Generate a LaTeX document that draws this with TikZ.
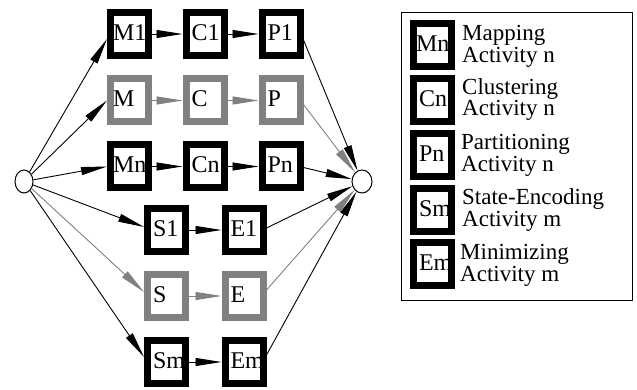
\documentclass[tikz,border=0pt]{standalone}
\usepackage{fontspec}
\setmainfont{Liberation Serif}
\usetikzlibrary{arrows.meta,shapes.geometric}
\begin{document}
\begin{tikzpicture}[x=1pt,y=-1pt,
  box/.style={draw=black, line width=7pt, fill=white, minimum width=38pt, minimum height=43pt,
    inner xsep=5.5pt, inner ysep=0pt, text width=27pt, align=left, text height=15pt, text depth=2pt,
    font=\fontsize{24}{24}\selectfont},
  mbox/.style={box, inner xsep=2.5pt, text width=33pt},
  gbox/.style={box, draw=gray},
  gmbox/.style={mbox, draw=gray},
  term/.style={draw=black, line width=1pt, ellipse, inner sep=0pt, fill=white},
  arr/.style={line width=0.9pt, -{Triangle[length=26pt,width=8pt]}},
  garr/.style={arr, color=gray},
  legtext/.style={anchor=base west, inner sep=0pt, text height=14pt, text depth=4pt,
    font=\fontsize{23}{23}\selectfont}
]
\useasboundingbox (0,0) rectangle (637,390);

% terminals
\node (L) [term, minimum width=18pt, minimum height=23pt] at (24,181.5) {};
\node (R) [term, minimum width=20pt, minimum height=23pt] at (362,181.5) {};

% mapping / clustering / partitioning rows
\node (M1) [mbox]  at (129.5,34) {M1};
\node (C1) [box]   at (205,34)   {C1};
\node (P1) [box]   at (281,34)   {P1};
\node (M)  [gmbox] at (129.5,100.5) {M};
\node (C)  [gbox]  at (205,100.5)   {C};
\node (P)  [gbox]  at (281,100.5)   {P};
\node (Mn) [mbox]  at (129.5,166.5) {Mn};
\node (Cn) [box]   at (205,166.5)   {Cn};
\node (Pn) [box]   at (281,166.5)   {Pn};

% state-encoding / minimizing rows
\node (S1) [box]  at (166.5,230) {S1};
\node (E1) [box]  at (244,230)   {E1};
\node (S)  [gbox] at (166.5,296) {S};
\node (E)  [gbox] at (244,296)   {E};
\node (Sm) [box]  at (166.5,362) {Sm};
\node (Em) [box]  at (244,362)   {Em};

% edges from the start
\draw[arr]  (L) -- ([yshift=-5pt]M1.west);
\draw[arr]  (L) -- (M.west);
\draw[arr]  (L) -- (Mn.west);
\draw[arr]  (L) -- ([yshift=3pt]S1.west);
\draw[garr] (L) -- ([yshift=4pt]S.west);
\draw[arr]  (L) -- ([yshift=5pt]Sm.west);

% row edges
\draw[arr]  (M1) -- (C1);
\draw[arr]  (C1) -- (P1);
\draw[garr] (M) -- (C);
\draw[garr] (C) -- (P);
\draw[arr]  (Mn) -- (Cn);
\draw[arr]  (Cn) -- (Pn);
\draw[arr]  (S1) -- (E1);
\draw[garr] (S) -- (E);
\draw[arr]  (Sm) -- (Em);

% edges to the end
\draw[arr]  ([yshift=-6pt]P1.east) -- (R);
\draw[garr] ([yshift=-4pt]P.east) -- (R);
\draw[arr]  ([yshift=-1pt]Pn.east) -- (R);
\draw[arr]  ([yshift=2pt]E1.east) -- (R);
\draw[garr] ([yshift=6pt]E.east) -- (R);
\draw[arr]  ([yshift=7pt]Em.east) -- (R);

% legend
\node (legend) [draw=black, line width=1.2pt, minimum width=231pt, minimum height=288pt, inner sep=0pt] at (517,156.5) {};
\node (lM) [mbox] at (432.5,45)    {Mn};
\node (lC) [box]  at (432.5,100)   {Cn};
\node (lP) [box]  at (432.5,155)   {Pn};
\node (lS) [box]  at (432.5,210)   {Sm};
\node (lE) [box]  at (432.5,263.5) {Em};

\node (tMa) [legtext] at (462,41)    {Mapping};
\node (tMb) [legtext] at (462,62.5)  {Activity n};
\node (tCa) [legtext] at (462,94.5)  {Clustering};
\node (tCb) [legtext] at (462,116)   {Activity n};
\node (tPa) [legtext] at (461,150)   {Partitioning};
\node (tPb) [legtext] at (461,171.5) {Activity n};
\node (tSa) [legtext] at (462,204.5) {State-Encoding};
\node (tSb) [legtext] at (462,226)   {Activity m};
\node (tEa) [legtext] at (460,259.5) {Minimizing};
\node (tEb) [legtext] at (460,281)   {Activity m};
\end{tikzpicture}
\end{document}
